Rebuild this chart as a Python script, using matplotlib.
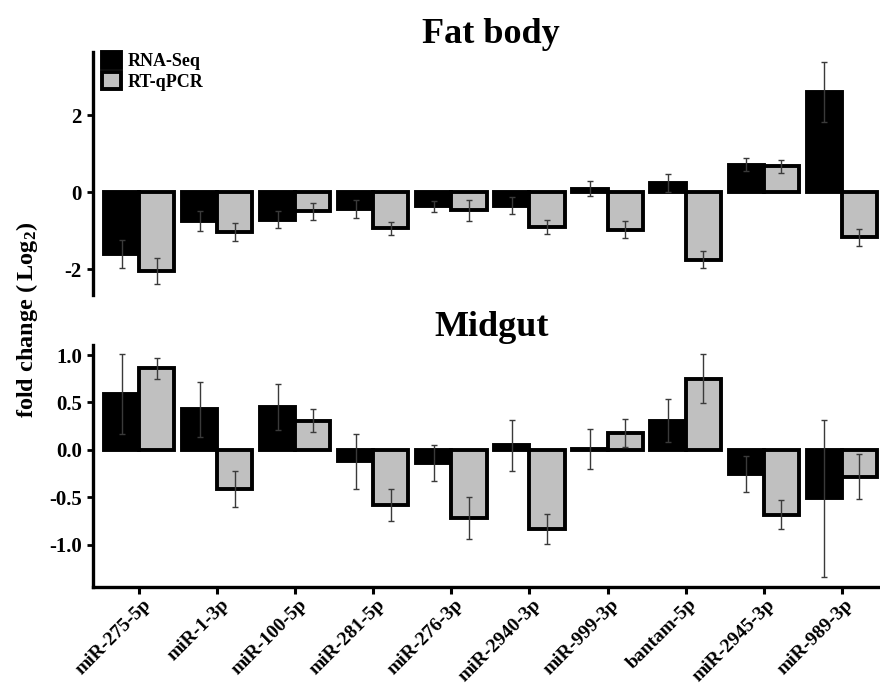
import matplotlib

matplotlib.use("Agg")
import matplotlib.pyplot as plt
from matplotlib.transforms import ScaledTranslation
import numpy as np

GENES = [
	"miR-275-5p", "miR-1-3p", "miR-100-5p", "miR-281-5p", "miR-276-3p",
	"miR-2940-3p", "miR-999-3p", "bantam-5p", "miR-2945-3p", "miR-989-3p",
]

# log2 fold change, fat body
FAT_RNASEQ = [-1.60, -0.76, -0.72, -0.44, -0.37, -0.35, 0.09, 0.24, 0.71, 2.60]
FAT_RNASEQ_ERR = [0.37, 0.26, 0.22, 0.23, 0.14, 0.22, 0.20, 0.24, 0.17, 0.77]
FAT_QPCR = [-2.04, -1.04, -0.50, -0.94, -0.47, -0.91, -0.97, -1.75, 0.67, -1.17]
FAT_QPCR_ERR = [0.34, 0.23, 0.22, 0.17, 0.27, 0.18, 0.23, 0.21, 0.17, 0.22]

# log2 fold change, midgut
MID_RNASEQ = [0.59, 0.43, 0.45, -0.12, -0.14, 0.05, 0.01, 0.31, -0.25, -0.51]
MID_RNASEQ_ERR = [0.42, 0.29, 0.24, 0.29, 0.19, 0.27, 0.21, 0.23, 0.19, 0.83]
MID_QPCR = [0.86, -0.41, 0.31, -0.58, -0.72, -0.83, 0.18, 0.75, -0.68, -0.28]
MID_QPCR_ERR = [0.11, 0.19, 0.12, 0.17, 0.22, 0.16, 0.15, 0.26, 0.15, 0.24]

FAT_TICKS = [-2, 0, 2]
FAT_TICKLABELS = ["-2", "0", "2"]
MID_TICKS = [-1.0, -0.5, 0.0, 0.5, 1.0]
MID_TICKLABELS = ["-1.0", "-0.5", "0.0", "0.5", "1.0"]

BAR_W = 0.45
GREY = "#c0c0c0"
ERR_COLOR = "#3a3a3a"

plt.rcParams["font.family"] = ["Liberation Serif", "DejaVu Serif"]
plt.rcParams["font.weight"] = "bold"
plt.rcParams["axes.unicode_minus"] = False
plt.rcParams["mathtext.fontset"] = "custom"
plt.rcParams["mathtext.rm"] = "Liberation Serif:bold"
plt.rcParams["mathtext.default"] = "rm"


def draw_pairs(ax, seq, seq_err, qpcr, qpcr_err):
	x = np.arange(len(GENES))
	b1 = ax.bar(x - BAR_W / 2, seq, BAR_W, color="black", edgecolor="black",
		linewidth=2.8, label="RNA-Seq", zorder=2)
	b2 = ax.bar(x + BAR_W / 2, qpcr, BAR_W, color=GREY, edgecolor="black",
		linewidth=2.8, label="RT-qPCR", zorder=2)
	kw = dict(fmt="none", ecolor=ERR_COLOR, elinewidth=1.0, capsize=2.5, capthick=1.0, zorder=3)
	ax.errorbar(x - BAR_W / 2, seq, yerr=seq_err, **kw)
	ax.errorbar(x + BAR_W / 2, qpcr, yerr=qpcr_err, **kw)
	ax.set_xlim(-0.59, 9.49)
	for side in ("top", "right"):
		ax.spines[side].set_visible(False)
	ax.spines["left"].set_linewidth(2.4)
	ax.spines["bottom"].set_linewidth(2.4)
	ax.tick_params(axis="y", length=4.5, width=2.0, pad=3.5, labelsize=15)
	return b1, b2


def main() -> None:
	fig = plt.figure(figsize=(8.8, 6.88), dpi=100)
	ax_fat = fig.add_axes([0.1057, 0.5712, 0.8943, 0.3532])
	ax_mid = fig.add_axes([0.1057, 0.1472, 0.8943, 0.3513])

	b1, b2 = draw_pairs(ax_fat, FAT_RNASEQ, FAT_RNASEQ_ERR, FAT_QPCR, FAT_QPCR_ERR)
	ax_fat.set_ylim(-2.67, 3.64)
	ax_fat.set_yticks(FAT_TICKS, FAT_TICKLABELS)
	ax_fat.spines["bottom"].set_visible(False)
	ax_fat.tick_params(axis="x", bottom=False, labelbottom=False)
	ax_fat.set_title("Fat body", fontsize=26, fontweight="bold", pad=6.5, x=0.506)
	ax_fat.legend(handles=[b1, b2], loc="upper left", bbox_to_anchor=(0.012, 1.0),
		frameon=False, fontsize=13, handlelength=1.0, handleheight=1.0,
		handletextpad=0.4, labelspacing=0.12, borderpad=0, borderaxespad=0)

	draw_pairs(ax_mid, MID_RNASEQ, MID_RNASEQ_ERR, MID_QPCR, MID_QPCR_ERR)
	ax_mid.set_ylim(-1.44, 1.105)
	ax_mid.set_yticks(MID_TICKS, MID_TICKLABELS)
	ax_mid.set_xticks(np.arange(len(GENES)))
	ax_mid.set_xticklabels(GENES, rotation=45, ha="right", va="center",
		rotation_mode="anchor", fontsize=14)
	ax_mid.tick_params(axis="x", length=5, width=2.2, pad=6)
	# nudge the slanted names so they end just right of their tick
	shift = ScaledTranslation(0.09, 0, fig.dpi_scale_trans)
	for lbl in ax_mid.get_xticklabels():
		lbl.set_transform(lbl.get_transform() + shift)
	ax_mid.set_title("Midgut", fontsize=26, fontweight="bold", pad=6.5, x=0.506)

	fig.text(0.031, 0.535, "fold change ($\\,$Log$_2$)", rotation=90, ha="center",
		va="center", fontsize=17.5, fontweight="bold")

	fig.savefig("out.png", dpi=100)


if __name__ == "__main__":
	main()
